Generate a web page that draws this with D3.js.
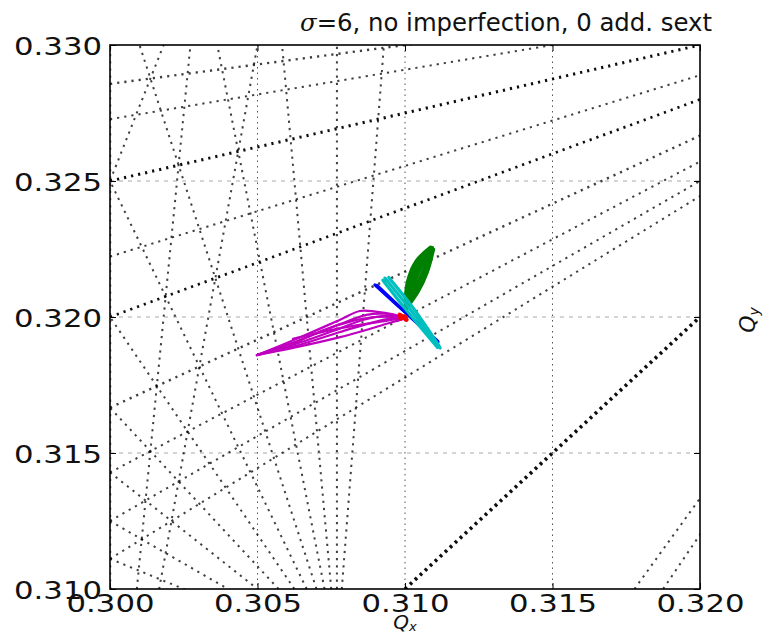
<!DOCTYPE html>
<html><head><meta charset="utf-8">
<script src="https://cdn.jsdelivr.net/npm/d3@7"></script>
<style>
body{margin:0;background:#fff;}
text{font-family:"DejaVu Sans",sans-serif;}
</style></head>
<body>
<svg id="chart" width="769" height="634"></svg>
<script>
// ---- data ----
const xDomain = [0.300, 0.320];
const yDomain = [0.310, 0.330];
const xTicks = [0.300, 0.305, 0.310, 0.315, 0.320];
const yTicks = [0.310, 0.315, 0.320, 0.325, 0.330];
const xTickLabels = ["0.300", "0.305", "0.310", "0.315", "0.320"];
const yTickLabels = ["0.310", "0.315", "0.320", "0.325", "0.330"];
// resonance lines m*Qx + n*Qy = p  (order |m|+|n| <= 15 crossing the window)
const resonances = [
  [-1,1,0],[-1,4,1],[-2,5,1],[-1,7,2],[-3,6,1],[10,0,3],
  [-7,4,-1],[-4,7,1],[-1,10,3],[-11,1,-3],[-3,9,2],
  [-8,5,-1],[-5,8,1],[-2,11,3],[3,10,4],[4,9,4],[5,8,4],[6,7,4],[7,6,4],[8,5,4],[9,4,4],
  [10,3,4],[11,2,4],[12,1,4],[13,0,4],[-12,2,-3],
  [-14,1,-4],[-11,4,-2],[-9,6,-1],[-6,9,1]
];
// tune footprints
const magentaLines = [
  [[0.30498,0.31860],[0.30644,0.31925],[0.30780,0.31990],[0.30847,0.32022],[0.30900,0.32020],[0.30960,0.32010],[0.30993,0.31999]],
  [[0.30498,0.31860],[0.30644,0.31915],[0.30780,0.31974],[0.30870,0.32008],[0.30930,0.32012],[0.30993,0.31999]],
  [[0.30498,0.31860],[0.30644,0.31906],[0.30780,0.31958],[0.30860,0.31990],[0.30940,0.32004],[0.30993,0.31998]],
  [[0.30498,0.31860],[0.30644,0.31898],[0.30780,0.31945],[0.30870,0.31974],[0.30940,0.31992],[0.30993,0.31996]],
  [[0.30498,0.31860],[0.30644,0.31892],[0.30780,0.31926],[0.30880,0.31956],[0.30950,0.31979],[0.30993,0.31992]],
  [[0.30600,0.31890],[0.30720,0.31950],[0.30820,0.31985],[0.30900,0.32000],[0.30993,0.31998]],
  [[0.30620,0.31920],[0.30740,0.31950],[0.30840,0.31970],[0.30930,0.31985],[0.30993,0.31996]]
];
const greenLines = [
  [[0.31005,0.32030],[0.31018,0.32110],[0.31045,0.32185],[0.31092,0.32254]],
  [[0.31005,0.32030],[0.31025,0.32105],[0.31052,0.32178],[0.31092,0.32254]],
  [[0.31005,0.32030],[0.31032,0.32100],[0.31062,0.32172],[0.31092,0.32254]],
  [[0.31008,0.32035],[0.31040,0.32098],[0.31070,0.32168],[0.31094,0.32250]],
  [[0.31010,0.32040],[0.31045,0.32095],[0.31075,0.32165],[0.31096,0.32248]],
  [[0.31002,0.32045],[0.31008,0.32125],[0.31038,0.32205],[0.31086,0.32256]],
  [[0.31003,0.32040],[0.31013,0.32118],[0.31042,0.32195],[0.31090,0.32255]]
];
const blueLines = [
  [[0.30898,0.32118],[0.31000,0.32018],[0.31112,0.31908]],
  [[0.30905,0.32116],[0.31005,0.32014],[0.31110,0.31912]]
];
const cyanLines = [
  [[0.30932,0.32143],[0.31020,0.32025],[0.31119,0.31886]],
  [[0.30945,0.32145],[0.31030,0.32030],[0.31115,0.31895]],
  [[0.30925,0.32135],[0.31010,0.32018],[0.31110,0.31888]]
];
const redLines = [
  [[0.30982,0.32008],[0.30995,0.31998],[0.31005,0.31990]],
  [[0.30985,0.31995],[0.30998,0.32002],[0.31003,0.31995]]
];

// ---- layout ----
const L = 110, R = 700, T = 45, B = 589;
const svg = d3.select("#chart");
const xs = d3.scaleLinear().domain(xDomain).range([L, R]);
const ys = d3.scaleLinear().domain(yDomain).range([B, T]);

svg.append("defs").append("clipPath").attr("id","clip")
  .append("rect").attr("x",L).attr("y",T).attr("width",R-L).attr("height",B-T);

const plot = svg.append("g").attr("clip-path","url(#clip)");

// grid
plot.selectAll(".hg").data(yTicks.slice(1,-1)).join("line")
  .attr("x1",L).attr("x2",R).attr("y1",d=>ys(d)).attr("y2",d=>ys(d))
  .attr("stroke","#a8a8a8").attr("stroke-width",1).attr("stroke-dasharray","4,5");
plot.selectAll(".vg").data(xTicks.slice(1,-1)).join("line")
  .attr("y1",T).attr("y2",B).attr("x1",d=>xs(d)).attr("x2",d=>xs(d))
  .attr("stroke","#555").attr("stroke-width",1).attr("stroke-dasharray","1.5,4");

// resonance lines
function ends(r){
  const [m,n,p] = r;
  if (Math.abs(n) >= Math.abs(m)) {
    return [[xDomain[0],(p-m*xDomain[0])/n],[xDomain[1],(p-m*xDomain[1])/n]];
  }
  return [[(p-n*yDomain[0])/m,yDomain[0]],[(p-n*yDomain[1])/m,yDomain[1]]];
}
function lw(o){
  if (o<=2) return 3.6;
  if (o<=5) return 3.0;
  if (o<=7) return 2.7;
  if (o<=10) return 2.4;
  return 2.0;
}
plot.selectAll(".res").data(resonances).join("line")
  .each(function(r){
    const e = ends(r), o = Math.abs(r[0])+Math.abs(r[1]);
    d3.select(this).attr("x1",xs(e[0][0])).attr("y1",ys(e[0][1]))
      .attr("x2",xs(e[1][0])).attr("y2",ys(e[1][1]))
      .attr("stroke-width",lw(o))
      .attr("stroke-opacity", o<=7 ? 0.95 : 0.75)
      .attr("stroke-dasharray", o<=2 ? "2.8,4" : "2.2,5");
  })
  .attr("stroke","#000");

// footprints
const line = d3.line().x(d=>xs(d[0])).y(d=>ys(d[1])).curve(d3.curveCatmullRom);
function drawSet(data,color,w){
  plot.append("g").selectAll("path").data(data).join("path")
    .attr("d",line).attr("fill","none").attr("stroke",color)
    .attr("stroke-width",w).attr("stroke-linejoin","round").attr("stroke-linecap","round");
}
drawSet(magentaLines,"#bf00bf",2.2);
drawSet(blueLines,"#0000ff",3.2);
drawSet(greenLines,"#008000",3.6);
drawSet(cyanLines,"#00bfbf",3.2);
drawSet(redLines,"#ff0000",4.5);

// frame
svg.append("rect").attr("x",L).attr("y",T).attr("width",R-L).attr("height",B-T)
  .attr("fill","none").attr("stroke","#000").attr("stroke-width",1.6);

// axes (ticks inward)
const ax = svg.append("g").attr("transform",`translate(0,${B})`)
  .call(d3.axisBottom(xs).tickValues(xTicks).tickSize(-6).tickPadding(6)
    .tickFormat((d,i)=>xTickLabels[i]));
const ay = svg.append("g").attr("transform",`translate(${L},0)`)
  .call(d3.axisLeft(ys).tickValues(yTicks).tickSize(-6).tickPadding(8)
    .tickFormat((d,i)=>yTickLabels[i]));
svg.append("g").attr("transform",`translate(0,${T})`)
  .call(d3.axisTop(xs).tickValues(xTicks).tickSize(-6).tickFormat(""));
svg.append("g").attr("transform",`translate(${R},0)`)
  .call(d3.axisRight(ys).tickValues(yTicks).tickSize(-6).tickFormat(""));
svg.selectAll(".domain").remove();
svg.selectAll(".tick line").attr("stroke","#000").attr("stroke-width",1);
ax.selectAll("text").attr("font-size",24).attr("fill","#111")
  .attr("textLength",88).attr("lengthAdjust","spacingAndGlyphs")
  .attr("font-family","DejaVu Sans");
ay.selectAll("text").attr("font-size",25).attr("fill","#111")
  .attr("textLength",88).attr("lengthAdjust","spacingAndGlyphs")
  .attr("font-family","DejaVu Sans").attr("dy","0.36em");

// title
const title = svg.append("text").attr("x",300).attr("y",31)
  .attr("font-size",25).attr("fill","#111")
  .attr("textLength",412).attr("lengthAdjust","spacingAndGlyphs");
title.append("tspan").attr("font-style","italic").attr("font-family","DejaVu Serif").text("σ");
title.append("tspan").text("=6, no imperfection, 0 add. sext");

// axis labels
const xl = svg.append("text").attr("x",405).attr("y",629).attr("text-anchor","middle")
  .attr("font-size",20).attr("font-style","italic").attr("fill","#111")
  .attr("font-family","DejaVu Serif");
xl.append("tspan").text("Q");
xl.append("tspan").attr("font-size",13).attr("dy",2).text("x");
const yl = svg.append("text").attr("transform","translate(755,320) rotate(-90)")
  .attr("text-anchor","middle").attr("font-size",22).attr("font-style","italic")
  .attr("fill","#111").attr("font-family","DejaVu Serif");
yl.append("tspan").text("Q");
yl.append("tspan").attr("font-size",14).attr("dy",4).text("y");
</script>
</body></html>
